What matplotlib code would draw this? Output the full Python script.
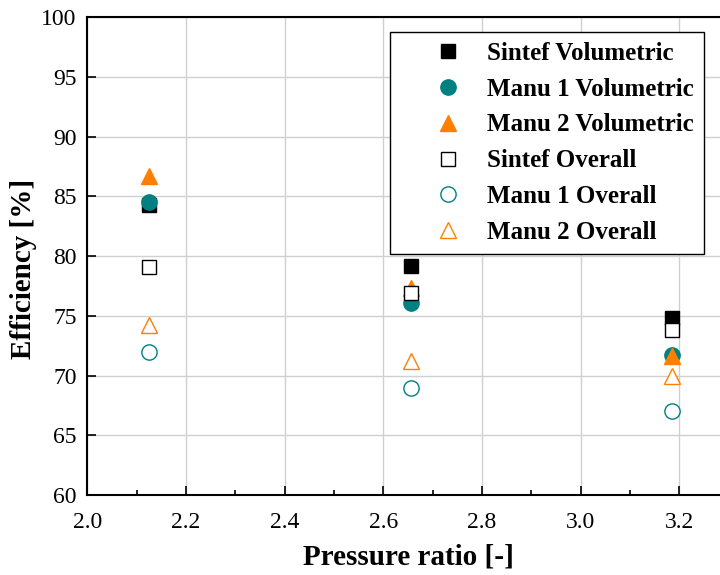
import matplotlib
matplotlib.use("Agg")
import matplotlib.pyplot as plt
from matplotlib.ticker import MultipleLocator, FormatStrFormatter

plt.rcParams['font.family'] = ['Liberation Serif', 'DejaVu Serif']

pressure_ratio = [2.126, 2.657, 3.184]

sintef_vol = [84.3, 79.15, 74.85]
manu1_vol = [84.55, 76.05, 71.75]
manu2_vol = [86.7, 77.3, 71.65]
sintef_overall = [79.1, 76.9, 73.8]
manu1_overall = [72.0, 69.0, 67.05]
manu2_overall = [74.2, 71.2, 69.95]

teal = '#008080'
orange = '#ff8000'

fig = plt.figure(figsize=(7.2, 5.75), dpi=100)
ax = fig.add_axes([0.1211, 0.1391, 0.8911, 0.8308])

ax.plot(pressure_ratio, sintef_vol, 's', ms=10, color='black', mec='black', label='Sintef Volumetric')
ax.plot(pressure_ratio, manu1_vol, 'o', ms=11, color=teal, mec=teal, label='Manu 1 Volumetric')
ax.plot(pressure_ratio, manu2_vol, '^', ms=11.5, color=orange, mec=orange, label='Manu 2 Volumetric')
ax.plot(pressure_ratio, sintef_overall, 's', ms=10, mfc='white', mec='black', mew=1.0, label='Sintef Overall')
ax.plot(pressure_ratio, manu1_overall, 'o', ms=11, mfc='white', mec=teal, mew=1.0, label='Manu 1 Overall')
ax.plot(pressure_ratio, manu2_overall, '^', ms=11.5, mfc='white', mec=orange, mew=1.0, label='Manu 2 Overall')

ax.set_xlim(2.0, 3.3)
ax.set_ylim(60, 100)
ax.xaxis.set_major_locator(MultipleLocator(0.2))
ax.xaxis.set_minor_locator(MultipleLocator(0.1))
ax.yaxis.set_major_locator(MultipleLocator(5))
ax.xaxis.set_major_formatter(FormatStrFormatter('%.1f'))

ax.grid(True, which='major', color='#d0d0d0', linewidth=1.0)
ax.set_axisbelow(True)
for s in ax.spines.values():
    s.set_linewidth(1.5)
ax.tick_params(axis='both', which='major', direction='in', length=6.5, width=1.2,
               labelsize=17, top=False, right=False)
ax.tick_params(axis='x', which='major', pad=12)
ax.tick_params(axis='y', which='major', pad=7.5)
ax.tick_params(axis='x', which='minor', direction='in', length=3.5, width=1.2, top=False)

ax.set_xlabel('Pressure ratio [-]', fontsize=21, fontweight='bold')
ax.set_ylabel('Efficiency [%]', fontsize=21, fontweight='bold')
ax.xaxis.set_label_coords(0.5, -0.1015)
ax.yaxis.set_label_coords(-0.0782, 0.473)

leg = ax.legend(loc='upper left', bbox_to_anchor=(390 / 720, 1 - 31.7 / 575),
                bbox_transform=fig.transFigure,
                prop={'family': 'Liberation Serif', 'weight': 'bold', 'size': 18},
                frameon=True, fancybox=False, edgecolor='black', framealpha=1,
                borderpad=0.4, handlelength=3.84, handletextpad=-0.36,
                labelspacing=0.515, numpoints=1, borderaxespad=0)
leg.get_frame().set_linewidth(1.0)

fig.savefig('out.png', dpi=100)
